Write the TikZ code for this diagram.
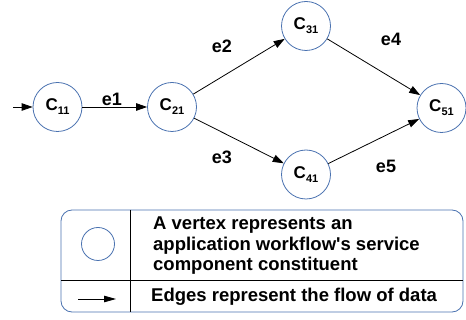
\documentclass[tikz,border=0pt]{standalone}
\usepackage{fontspec}
\setmainfont{Liberation Sans}
\usetikzlibrary{arrows.meta}
\usetikzlibrary{positioning}
\definecolor{vblue}{HTML}{4A72B0}
\newcommand{\comp}[1]{C\raisebox{-4pt}{\fontsize{11}{11}\selectfont #1}}

\begin{document}
\begin{tikzpicture}[x=1pt, y=-1pt,
    vertex/.style={circle, draw=vblue, line width=0.8pt, minimum size=49pt, inner sep=0pt, font=\bfseries\fontsize{17}{17}\selectfont},
    edgelbl/.style={font=\bfseries\fontsize{18}{18}\selectfont},
    legtxt/.style={inner sep=0pt, align=left, font=\bfseries\fontsize{18.5}{20.5}\selectfont},
    flow/.style={-{Triangle[length=11pt,width=7.5pt]}, line width=0.8pt}]
    \useasboundingbox (0,0) rectangle (466,320);

    % service components
    \node [vertex] (c11) at (57.5,107) {\comp{11}};
    \node [vertex] (c21) at (172,107) {\comp{21}};
    \node [vertex] (c31) at (306,26) {\comp{31}};
    \node [vertex] (c41) at (306,174.5) {\comp{41}};
    \node [vertex] (c51) at (441.5,108) {\comp{51}};
    \coordinate (in) at (13,107);

    \draw [flow] (in) -- (c11);
    \draw [flow] (c11) -- (c21);
    \draw [flow] (c21) -- (c31);
    \draw [flow] (c21) -- (c41);
    \draw [flow] (c31) -- (c51);
    \draw [flow] (c41) -- (c51);
    \node [edgelbl] (e1) at (112,99) {e1};
    \node [edgelbl] (e2) at (222,46) {e2};
    \node [edgelbl] (e3) at (222,157.5) {e3};
    \node [edgelbl] (e4) at (391,39) {e4};
    \node [edgelbl] (e5) at (386,166) {e5};

    % legend
    \draw [vblue, line width=0.8pt, rounded corners=11pt] (61,210) rectangle (463,312);
    \draw [line width=0.8pt] (130,210) -- (130,312);
    \draw [line width=0.8pt] (61,280) -- (463,280);
    \node [circle, draw=vblue, line width=0.8pt, minimum size=33pt, inner sep=0pt] (lv) at (98,244) {};
    \coordinate (la) at (78,299);
    \coordinate (lb) at (116,299);
    \draw [-{Triangle[length=12pt,width=6.5pt]}, line width=0.8pt] (la) -- (lb);
    \node [legtxt, anchor=north west] (vtxt) at (153,217) {A vertex represents an\\application workflow\textquotesingle s service\\component constituent};
    \node [legtxt, anchor=base west] (etxt) at (151,302) {Edges represent the flow of data};
\end{tikzpicture}
\end{document}
